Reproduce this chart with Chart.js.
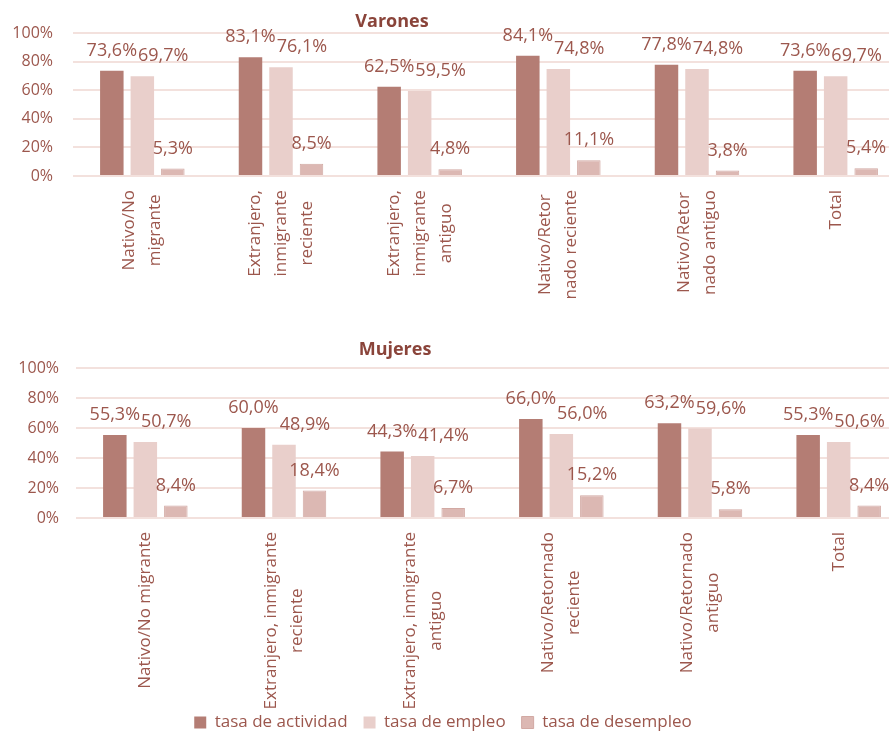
<!DOCTYPE html>
<html>
<head>
<meta charset="utf-8">
<script src="https://cdn.jsdelivr.net/npm/chart.js@4.4.1/dist/chart.umd.min.js"></script>
<style>
  body { margin: 0; background: #fff; overflow: hidden; width: 889px; height: 735px; position: relative; }
  #varones { position: absolute; left: 0; top: 0; }
  #mujeres { position: absolute; left: -22px; top: 335px; }
</style>
</head>
<body>
<canvas id="varones" width="905" height="330"></canvas>
<canvas id="mujeres" width="930" height="406"></canvas>
<script>
const seriesNames = ["tasa de actividad", "tasa de empleo", "tasa de desempleo"];

const varonesLabels = [
  ["Nativo/No", "migrante"],
  ["Extranjero,", "inmigrante", "reciente"],
  ["Extranjero,", "inmigrante", "antiguo"],
  ["Nativo/Retor", "nado reciente"],
  ["Nativo/Retor", "nado antiguo"],
  "Total"
];
const mujeresLabels = [
  "Nativo/No migrante",
  ["Extranjero, inmigrante", "reciente"],
  ["Extranjero, inmigrante", "antiguo"],
  ["Nativo/Retornado", "reciente"],
  ["Nativo/Retornado", "antiguo"],
  "Total"
];

const varonesActividad = [73.6, 83.1, 62.5, 84.1, 77.8, 73.6];
const varonesEmpleo = [69.7, 76.1, 59.5, 74.8, 74.8, 69.7];
const varonesDesempleo = [5.3, 8.5, 4.8, 11.1, 3.8, 5.4];

const mujeresActividad = [55.3, 60.0, 44.3, 66.0, 63.2, 55.3];
const mujeresEmpleo = [50.7, 48.9, 41.4, 56.0, 59.6, 50.6];
const mujeresDesempleo = [8.4, 18.4, 6.7, 15.2, 5.8, 8.4];

const yMin = 0, yMax = 100, yStep = 20;

const textColor = "#9c574d";
const titleColor = "#8a443a";
const gridColor = "#f3e1dd";
const barColors = ["#b47d74", "#e9cfcb", "#dcb8b3"];
const font = "Open Sans";

// value labels above bars, nudged right when they bump into the previous one
const valueLabels = {
  id: "valueLabels",
  afterDatasetsDraw(chart) {
    const ctx = chart.ctx;
    ctx.save();
    ctx.font = `18px "${font}"`;
    ctx.fillStyle = textColor;
    ctx.textAlign = "center";
    ctx.textBaseline = "middle";
    for (let i = 0; i < chart.data.labels.length; i++) {
      let prev = null;
      chart.data.datasets.forEach((ds, d) => {
        const bar = chart.getDatasetMeta(d).data[i];
        const text = ds.data[i].toFixed(1).replace(".", ",") + "%";
        const w = ctx.measureText(text).width;
        let x = bar.x;
        const y = bar.y - 20;
        if (prev && Math.abs(prev.y - y) < 18 && x - w / 2 < prev.right + 1) {
          x = prev.right + 1 + w / 2;
        }
        ctx.fillText(text, x, y);
        prev = { y: y, right: x + w / 2 };
      });
    }
    ctx.restore();
  }
};

// rotated category labels, lines centred on each other like the original
const categoryLabels = {
  id: "categoryLabels",
  afterDraw(chart) {
    const scale = chart.scales.x;
    const ctx = chart.ctx;
    ctx.save();
    ctx.font = `17px "${font}"`;
    ctx.fillStyle = textColor;
    ctx.textAlign = "center";
    ctx.textBaseline = "middle";
    chart.data.labels.forEach((lab, i) => {
      const lines = [].concat(lab);
      const w = Math.max(...lines.map(l => ctx.measureText(l).width));
      ctx.save();
      ctx.translate(scale.getPixelForTick(i), scale.top + 14);
      ctx.rotate(-Math.PI / 2);
      lines.forEach((l, j) => ctx.fillText(l, -w / 2, (j - (lines.length - 1) / 2) * 26));
      ctx.restore();
    });
    ctx.restore();
  }
};

const panelTitle = {
  id: "panelTitle",
  afterDraw(chart, args, opts) {
    const ctx = chart.ctx;
    ctx.save();
    ctx.font = `bold 18px "${font}"`;
    ctx.fillStyle = titleColor;
    ctx.textAlign = "center";
    ctx.textBaseline = "middle";
    ctx.fillText(opts.text, opts.x, opts.y);
    ctx.restore();
  }
};

function makeDatasets(a, e, u) {
  return [a, e, u].map((vals, k) => ({
    label: seriesNames[k],
    data: vals,
    backgroundColor: barColors[k],
    borderColor: k === 2 ? "#d2a9a3" : barColors[k],
    borderWidth: k === 2 ? 1 : 0,
    barPercentage: 0.77,
    categoryPercentage: 0.66
  }));
}

function makeOptions(cfg) {
  return {
    responsive: false,
    animation: false,
    layout: { padding: { top: cfg.top, right: 0, left: 0, bottom: 0 } },
    plugins: {
      tooltip: { enabled: false },
      legend: cfg.legend ? {
        position: "bottom",
        labels: {
          boxWidth: 12, boxHeight: 12, padding: 16,
          color: textColor, font: { family: font, size: 17 }
        }
      } : { display: false },
      panelTitle: { text: cfg.title, x: cfg.titleX, y: cfg.titleY }
    },
    scales: {
      x: {
        grid: { display: false },
        border: { display: false },
        ticks: { display: false },
        afterFit(scale) { scale.height = cfg.xHeight; }
      },
      y: {
        min: yMin, max: yMax,
        grid: { color: gridColor, lineWidth: 2, drawTicks: false },
        border: { display: false },
        ticks: {
          stepSize: yStep, padding: cfg.yPad,
          color: textColor, font: { family: font, size: 16 },
          callback: v => v + "%"
        },
        afterFit(scale) { scale.width = cfg.yWidth; }
      }
    }
  };
}

new Chart(document.getElementById("varones"), {
  type: "bar",
  data: { labels: varonesLabels, datasets: makeDatasets(varonesActividad, varonesEmpleo, varonesDesempleo) },
  options: makeOptions({ top: 33, xHeight: 154, yWidth: 73, yPad: 20, title: "Varones", titleX: 392, titleY: 22 }),
  plugins: [valueLabels, categoryLabels, panelTitle]
});

new Chart(document.getElementById("mujeres"), {
  type: "bar",
  data: { labels: mujeresLabels, datasets: makeDatasets(mujeresActividad, mujeresEmpleo, mujeresDesempleo) },
  options: makeOptions({ top: 33, xHeight: 180, yWidth: 98, yPad: 17, title: "Mujeres", titleX: 417, titleY: 15, legend: true }),
  plugins: [valueLabels, categoryLabels, panelTitle]
});
</script>
</body>
</html>
